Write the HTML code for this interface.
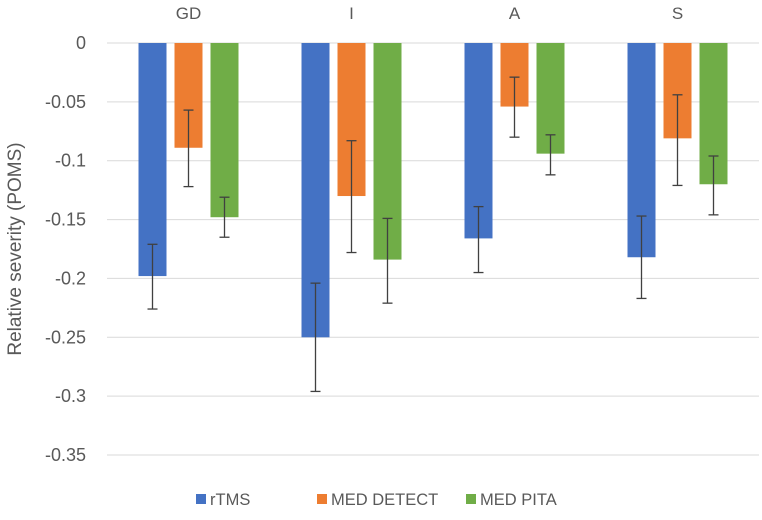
<!DOCTYPE html>
<html><head><meta charset="utf-8"><style>
body{margin:0;background:#fff;font-family:"Liberation Sans",sans-serif}
svg text{font-family:"Liberation Sans",sans-serif;fill:#595959}
</style></head><body>
<svg id="c" width="762" height="515"></svg>
<script>
const categories=["GD","I","A","S"];
const seriesNames=["rTMS","MED DETECT","MED PITA"];
const rtms=[-0.198,-0.25,-0.166,-0.182];
const medDetect=[-0.089,-0.13,-0.054,-0.081];
const medPita=[-0.148,-0.184,-0.094,-0.120];
const rtmsErrHi=[-0.171,-0.204,-0.139,-0.147];
const rtmsErrLo=[-0.226,-0.296,-0.195,-0.217];
const detErrHi=[-0.057,-0.083,-0.029,-0.044];
const detErrLo=[-0.122,-0.178,-0.080,-0.121];
const pitaErrHi=[-0.131,-0.149,-0.078,-0.096];
const pitaErrLo=[-0.165,-0.221,-0.112,-0.146];
const yTicks=[0,-0.05,-0.1,-0.15,-0.2,-0.25,-0.3,-0.35];
const yTickLabels=["0","-0.05","-0.1","-0.15","-0.2","-0.25","-0.3","-0.35"];

const NS="http://www.w3.org/2000/svg";
const svg=document.getElementById('c');
const x0=107,x1=759,y0=43,yPer=412/0.35;
const y=v=>y0-v*yPer;
const bw=(x1-x0)/categories.length;
const xc=i=>x0+bw*(i+0.5);
function mk(t,a,p){const e=document.createElementNS(NS,t);for(const k in a)e.setAttribute(k,a[k]);(p||svg).appendChild(e);return e;}
yTicks.forEach((v,i)=>{
 const l=mk('line',{x1:x0,x2:x1,y1:y(v),y2:y(v),stroke:'#d9d9d9','stroke-width':1});
 
 
 const t=mk('text',{x:86,y:y(v)+6,'text-anchor':'end','font-size':18});
 t.textContent=yTickLabels[i];
 
 
});
const yt=mk('text',{x:21,y:249,'text-anchor':'middle','font-size':19,transform:'rotate(-90 21 249)'});
yt.textContent='Relative severity (POMS)';


const colors=['#4472c4','#ed7d31','#70ad47'];
const vals=[rtms,medDetect,medPita],his=[rtmsErrHi,detErrHi,pitaErrHi],los=[rtmsErrLo,detErrLo,pitaErrLo];
const offs=[-36,0,36];
categories.forEach((c,i)=>{
 const t=mk('text',{x:xc(i),y:19,'text-anchor':'middle','font-size':17});
 t.textContent=c;
 
 
 vals.forEach((s,j)=>{
  const cx=xc(i)+offs[j];
  const r=mk('rect',{x:cx-14,y:y(0),width:28,height:y(s[i])-y(0),fill:colors[j]});
  
  
  const g=mk('g',{stroke:'#404040','stroke-width':1.3});
  
  
  mk('line',{x1:cx,x2:cx,y1:y(his[j][i]),y2:y(los[j][i])},g);
  mk('line',{x1:cx-5,x2:cx+5,y1:y(his[j][i]),y2:y(his[j][i])},g);
  mk('line',{x1:cx-5,x2:cx+5,y1:y(los[j][i]),y2:y(los[j][i])},g);
 });
});
const lx=[196,317,466];
seriesNames.forEach((n,j)=>{
 const g=mk('g',{});
 
 
 mk('rect',{x:lx[j],y:494,width:10,height:10,fill:colors[j]},g);
 const t=mk('text',{x:lx[j]+14,y:505,'font-size':16.5},g);
 t.textContent=n;
});
</script>
</body></html>
